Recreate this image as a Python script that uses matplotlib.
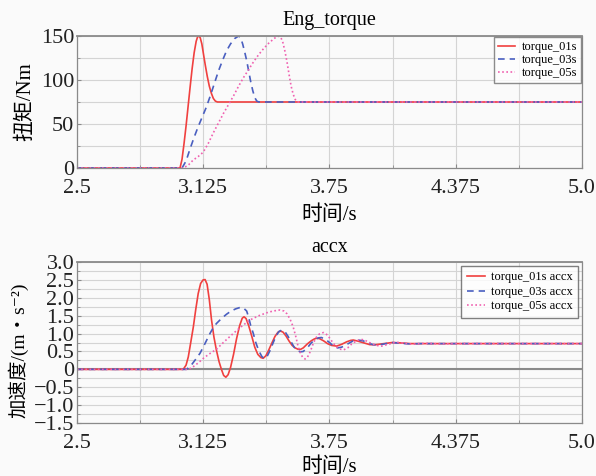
import matplotlib
matplotlib.use("Agg")
import matplotlib.pyplot as plt
from matplotlib.ticker import MultipleLocator

FAM = ['Liberation Serif', 'Noto Sans CJK SC', 'DejaVu Serif']
plt.rcParams['font.family'] = FAM

# ---- Eng_torque data (time s, torque Nm) ----
t_tq01 = [2.5, 3.010, 3.02, 3.03, 3.04, 3.05, 3.06, 3.07, 3.08, 3.09, 3.097, 3.104, 3.11,
          3.118, 3.125, 3.135, 3.145, 3.155, 3.165, 3.175, 3.185, 3.195, 5.0]
v_tq01 = [0, 0, 10, 28, 48, 70, 92, 113, 131, 144, 149, 150, 148,
          141, 131, 117, 104, 93, 85, 79, 76, 75, 75]

t_tq03 = [2.5, 3.02, 3.04, 3.06, 3.08, 3.10, 3.12, 3.14, 3.16, 3.18, 3.20, 3.22, 3.24,
          3.26, 3.28, 3.30, 3.31, 3.32, 3.33, 3.34, 3.35, 3.36, 3.37, 3.38, 3.39, 3.40, 5.0]
v_tq03 = [0, 0, 8, 22, 35, 47, 58, 69, 82, 96, 110, 122, 133,
          141, 147, 150, 148, 141, 132, 122, 110, 98, 88, 80, 76, 75, 75]

t_tq05 = [2.5, 3.025, 3.05, 3.075, 3.10, 3.125, 3.15, 3.175, 3.20, 3.225, 3.25, 3.275, 3.30,
          3.325, 3.35, 3.375, 3.40, 3.425, 3.45, 3.475, 3.495, 3.51, 3.52, 3.53, 3.54,
          3.55, 3.56, 3.57, 3.58, 3.59, 5.0]
v_tq05 = [0, 0, 3, 9, 13, 18, 28, 40, 51, 62, 72, 82, 93,
          103, 112, 121, 129, 136, 142, 147, 150, 148, 142, 132, 120,
          106, 93, 84, 78, 75, 75]

# ---- accx data (time s, acceleration m/s^2) ----
t_ac01 = [2.5, 3.026, 3.04, 3.051, 3.063, 3.076, 3.088, 3.10, 3.112, 3.124, 3.134, 3.144,
          3.155, 3.166, 3.178, 3.19, 3.203, 3.215, 3.226, 3.237, 3.248, 3.26, 3.275, 3.29,
          3.305, 3.318, 3.327, 3.337, 3.35, 3.365, 3.38, 3.395, 3.41, 3.422, 3.435, 3.45,
          3.465, 3.48, 3.495, 3.508, 3.52, 3.535, 3.55, 3.565, 3.58, 3.595, 3.607, 3.62,
          3.64, 3.66, 3.675, 3.686, 3.70, 3.72, 3.74, 3.76, 3.785, 3.81, 3.835, 3.855,
          3.868, 3.89, 3.92, 3.95, 3.98, 4.02, 4.06, 4.10, 4.15, 4.25, 4.4, 5.0]
v_ac01 = [0, 0, 0.12, 0.35, 0.75, 1.19, 1.68, 2.12, 2.40, 2.50, 2.51, 2.38,
          1.95, 1.38, 0.90, 0.54, 0.22, 0.0, -0.17, -0.22, -0.15, 0.05, 0.42, 0.86,
          1.22, 1.43, 1.47, 1.42, 1.22, 0.93, 0.62, 0.42, 0.33, 0.31, 0.38, 0.55,
          0.74, 0.92, 1.04, 1.07, 1.04, 0.93, 0.79, 0.67, 0.60, 0.56, 0.56, 0.60,
          0.71, 0.80, 0.85, 0.87, 0.86, 0.80, 0.72, 0.67, 0.65, 0.70, 0.77, 0.81,
          0.82, 0.79, 0.74, 0.69, 0.69, 0.72, 0.75, 0.74, 0.72, 0.72, 0.72, 0.72]

t_ac03 = [2.5, 3.04, 3.055, 3.07, 3.09, 3.109, 3.13, 3.158, 3.175, 3.19, 3.215, 3.24, 3.26,
          3.285, 3.307, 3.325, 3.34, 3.35, 3.36, 3.373, 3.385, 3.40, 3.415, 3.427, 3.44,
          3.455, 3.47, 3.485, 3.50, 3.515, 3.53, 3.545, 3.56, 3.575, 3.59, 3.605, 3.62,
          3.64, 3.66, 3.68, 3.695, 3.71, 3.73, 3.75, 3.77, 3.79, 3.81, 3.84, 3.865, 3.89,
          3.915, 3.94, 3.965, 3.99, 4.02, 4.06, 4.10, 4.15, 4.2, 5.0]
v_ac03 = [0, 0, 0.05, 0.15, 0.30, 0.45, 0.68, 1.0, 1.17, 1.28, 1.42, 1.54, 1.62,
          1.69, 1.73, 1.71, 1.63, 1.45, 1.22, 1.0, 0.75, 0.52, 0.36, 0.30, 0.35,
          0.52, 0.73, 0.93, 1.06, 1.10, 1.05, 0.92, 0.77, 0.62, 0.53, 0.49, 0.50,
          0.60, 0.74, 0.84, 0.88, 0.89, 0.84, 0.75, 0.65, 0.60, 0.62, 0.71, 0.79, 0.82,
          0.80, 0.74, 0.69, 0.68, 0.71, 0.75, 0.73, 0.71, 0.72, 0.72]

t_ac05 = [2.5, 3.05, 3.07, 3.1, 3.13, 3.16, 3.19, 3.23, 3.273, 3.31, 3.356, 3.40, 3.438,
          3.47, 3.505, 3.525, 3.54, 3.555, 3.57, 3.583, 3.595, 3.607, 3.618, 3.629, 3.64,
          3.655, 3.67, 3.685, 3.70, 3.72, 3.74, 3.76, 3.78, 3.80, 3.818, 3.84, 3.86, 3.885,
          3.908, 3.93, 3.955, 3.98, 4.008, 4.04, 4.08, 4.12, 4.16, 4.22, 4.3, 4.4, 5.0]
v_ac05 = [0, 0, 0.05, 0.18, 0.33, 0.45, 0.56, 0.78, 1.0, 1.18, 1.38, 1.50, 1.58,
          1.63, 1.66, 1.63, 1.55, 1.40, 1.19, 0.92, 0.63, 0.44, 0.33, 0.29, 0.33,
          0.50, 0.73, 0.90, 0.99, 1.03, 0.96, 0.80, 0.65, 0.57, 0.54, 0.60, 0.71, 0.80,
          0.84, 0.80, 0.73, 0.67, 0.65, 0.70, 0.76, 0.73, 0.70, 0.73, 0.71, 0.72, 0.72]

x_ticks = [2.5, 3.125, 3.75, 4.375, 5.0]
x_ticklabels = ['2.5', '3.125', '3.75', '4.375', '5.0']
tq_ticks = [0, 50, 100, 150]
ac_ticks = [3.0, 2.5, 2.0, 1.5, 1.0, 0.5, 0, -0.5, -1.0, -1.5]
ac_ticklabels = ['3.0', '2.5', '2.0', '1.5', '1.0', '0.5', '0', '\u22120.5', '\u22121.0', '\u22121.5']

RED = '#f0403f'
BLUE = '#4a5fc0'
PINK = '#f060b0'
BG = '#fafafa'

fig = plt.figure(figsize=(5.96, 4.76), dpi=100, facecolor=BG)
ax1 = fig.add_axes([0.1292, 0.6471, 0.8473, 0.2773], facecolor=BG)
ax2 = fig.add_axes([0.1292, 0.1113, 0.8473, 0.3382], facecolor=BG)


def style(ax):
    ax.set_xlim(2.5, 5.0)
    ax.set_xticks(x_ticks)
    ax.set_xticklabels(x_ticklabels)
    ax.xaxis.set_minor_locator(MultipleLocator(0.3125))
    ax.grid(True, which='both', color='#d4d4d4', linewidth=0.8)
    ax.set_axisbelow(True)
    for s in ax.spines.values():
        s.set_color('#8a8a8a')
        s.set_linewidth(0.9)
    ax.spines['top'].set_linewidth(1.3)
    ax.tick_params(which='both', direction='in', colors='#8a8a8a', labelcolor='#222222',
                   labelsize=16)
    ax.tick_params(axis='y', which='both', pad=2)
    ax.tick_params(axis='x', which='both', pad=8)
    ax.tick_params(which='major', length=3)
    ax.tick_params(which='minor', length=2)


# Top chart
style(ax1)
ax1.plot(t_tq01, v_tq01, color=RED, lw=1.2, ls='-', label='torque_01s')
ax1.plot(t_tq03, v_tq03, color=BLUE, lw=1.2, ls=(0, (4, 3)), label='torque_03s')
ax1.plot(t_tq05, v_tq05, color=PINK, lw=1.2, ls=(0, (1, 1.5)), label='torque_05s')
ax1.set_ylim(0, 150)
ax1.set_yticks(tq_ticks)
ax1.yaxis.set_minor_locator(MultipleLocator(25))
ax1.set_title('Eng_torque', fontsize=14.5, pad=8)
ax1.set_xlabel('时间/s', fontsize=15, labelpad=5)
ax1.set_ylabel('扭矩/Nm', fontsize=15)
ax1.yaxis.set_label_coords(-0.083, 0.5)
leg1 = ax1.legend(loc='upper right', fontsize=9, frameon=True, fancybox=False,
                  handlelength=1.4, handletextpad=0.5, borderpad=0.3, labelspacing=0.1,
                  borderaxespad=0.1)
leg1.get_frame().set_edgecolor('#707070')
leg1.get_frame().set_facecolor('white')

# Bottom chart
style(ax2)
ax2.axhline(0, color='#8a8a8a', lw=1.5, zorder=1.5)
ax2.plot(t_ac01, v_ac01, color=RED, lw=1.2, ls='-', label='torque_01s accx')
ax2.plot(t_ac03, v_ac03, color=BLUE, lw=1.2, ls=(0, (4, 3)), label='torque_03s accx')
ax2.plot(t_ac05, v_ac05, color=PINK, lw=1.2, ls=(0, (1, 1.5)), label='torque_05s accx')
ax2.set_ylim(-1.5, 3.0)
ax2.set_yticks(ac_ticks)
ax2.set_yticklabels(ac_ticklabels)
ax2.yaxis.set_minor_locator(MultipleLocator(0.25))
ax2.set_title('accx', fontsize=14.5, pad=7)
ax2.set_xlabel('时间/s', fontsize=15, labelpad=3)
ax2.set_ylabel('加速度/(m\u30fbs\u207b\u00b2)', fontsize=14)
ax2.yaxis.set_label_coords(-0.097, 0.45)
leg2 = ax2.legend(loc='upper right', fontsize=9, frameon=True, fancybox=False,
                  handlelength=1.4, handletextpad=0.5, borderpad=0.45, labelspacing=0.2,
                  borderaxespad=0.3)
leg2.get_frame().set_edgecolor('#606060')
leg2.get_frame().set_facecolor('white')

fig.savefig('out.png', dpi=100, facecolor=BG)
